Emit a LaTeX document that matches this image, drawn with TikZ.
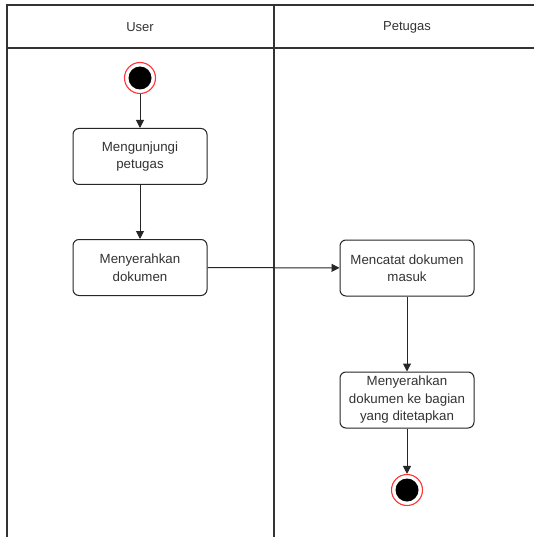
\documentclass[tikz,border=0pt]{standalone}
\usepackage{fontspec}
\setmainfont{Liberation Sans}
\usetikzlibrary{arrows.meta}
\begin{document}
\begin{tikzpicture}[x=1pt,y=-1pt,
  act/.style={draw=black!85, line width=1pt, rounded corners=6pt, minimum width=134pt, minimum height=56pt, align=center, font=\fontsize{13.3}{17.5}\selectfont, text=black!80, inner sep=2pt},
  lane/.style={draw=black!80, line width=1.1pt},
  flow/.style={draw=black!85, line width=1pt, -{Triangle[length=8pt,width=8pt]}},
  ring/.style={circle, draw=red!80!white, line width=1.1pt, minimum size=31pt, inner sep=0pt},
  hdr/.style={font=\fontsize{13}{15}\selectfont, text=black!80}]
\useasboundingbox (0,0) rectangle (534,537);
\fill[white] (0,0) rectangle (534,537);
% swimlanes
\draw[lane] (7,537) -- (7,5) -- (534,5);
\draw[lane] (7,48) -- (534,48);
\draw[lane] (274,5) -- (274,537);
\node[hdr] (huser) at (140,27) {User};
\node[hdr] (hpet) at (407,27) {Petugas};
% start
\node[ring] (start) at (140,78) {};
\fill[black] (start.center) circle (11.5pt);
% activities
\node[act] (a1) at (140,156.5) {Mengunjungi\\petugas};
\node[act] (a2) at (140,267.5) {Menyerahkan\\dokumen};
\node[act] (a3) at (407,268) {Mencatat dokumen\\masuk};
\node[act] (a4) at (407,400) {Menyerahkan\\dokumen ke bagian\\yang ditetapkan};
% end
\node[ring] (end) at (407,490) {};
\fill[black] (end.center) circle (11.5pt);
% flows
\draw[flow] (start) -- (a1);
\draw[flow] (a1) -- (a2);
\draw[flow] (a2) -- (a3);
\draw[flow] (a3) -- (a4);
\draw[flow] (a4) -- (end);
\end{tikzpicture}
\end{document}
